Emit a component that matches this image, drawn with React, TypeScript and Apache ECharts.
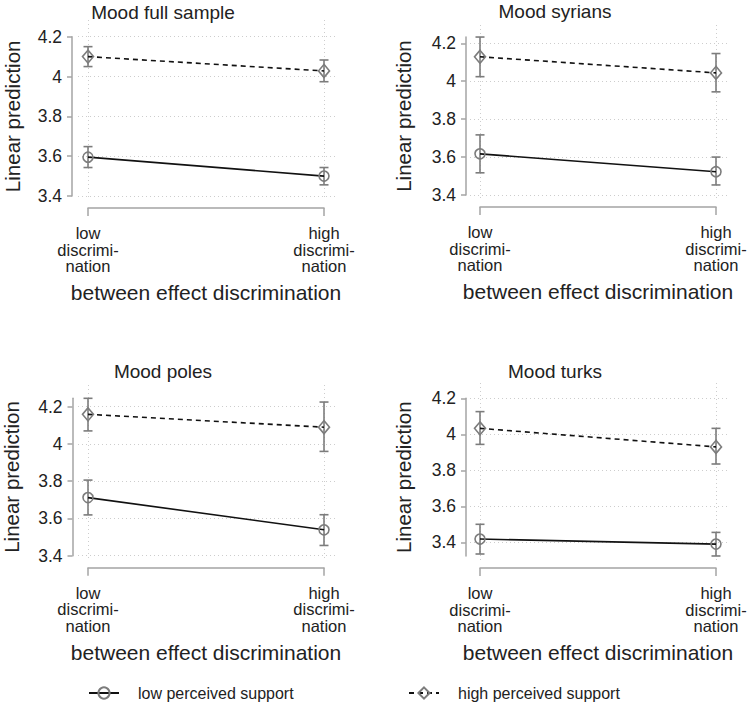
import { useEffect, useRef } from "react";
import * as echarts from "echarts";

// panels: full sample, syrians, poles, turks
const panelTitles = ["Mood full sample", "Mood syrians", "Mood poles", "Mood turks"];
const categories = ["low\ndiscrimi-\nnation", "high\ndiscrimi-\nnation"];
const yTicks = [3.4, 3.6, 3.8, 4.0, 4.2];
const seriesNames = ["low perceived support", "high perceived support"];
const yTitle = "Linear prediction";
const xTitle = "between effect discrimination";

// each row: [low discrimination, high discrimination]
const lowSupportMean = [
  [3.595, 3.5],
  [3.617, 3.523],
  [3.712, 3.539],
  [3.418, 3.39],
];
const lowSupportLower = [
  [3.543, 3.456],
  [3.517, 3.453],
  [3.619, 3.455],
  [3.335, 3.324],
];
const lowSupportUpper = [
  [3.648, 3.543],
  [3.717, 3.6],
  [3.806, 3.62],
  [3.5, 3.455],
];
const highSupportMean = [
  [4.1, 4.028],
  [4.129, 4.044],
  [4.159, 4.09],
  [4.033, 3.93],
];
const highSupportLower = [
  [4.05, 3.974],
  [4.024, 3.944],
  [4.07, 3.96],
  [3.944, 3.835],
];
const highSupportUpper = [
  [4.15, 4.083],
  [4.233, 4.146],
  [4.245, 4.225],
  [4.126, 4.033],
];

// pixel layout of each panel (where the outer ticks sit, plot region, labels)
const panelLayout = [
  { py42: 36.7, py34: 196, xLow: 88, xHigh: 324, axisX: 72, plotL: 78, plotR: 338, plotT: 20, plotB: 200, titleX: 163, titleY: 12, yNameX: 13 },
  { py42: 43.3, py34: 195, xLow: 480, xHigh: 716, axisX: 466, plotL: 470, plotR: 728, plotT: 25, plotB: 200, titleX: 555, titleY: 11, yNameX: 404 },
  { py42: 406.7, py34: 555.7, xLow: 88, xHigh: 324, axisX: 72.5, plotL: 78, plotR: 338, plotT: 385, plotB: 560, titleX: 163, titleY: 371, yNameX: 12 },
  { py42: 398.3, py34: 542.3, xLow: 480, xHigh: 716, axisX: 466, plotL: 470, plotR: 730, plotT: 383, plotB: 560, titleX: 555, titleY: 371, yNameX: 404 },
];

const FONT = "'Liberation Sans', Arial, sans-serif";
const AXIS_GRAY = "#a4a4a4";
const MARK_GRAY = "#7c7c7c";
const GRID_GRAY = "#cdcdcd";
const TEXT = "#222";

function buildOption(): echarts.EChartsOption {
  const grids: any[] = [];
  const xAxes: any[] = [];
  const yAxes: any[] = [];
  const series: any[] = [];
  const graphics: any[] = [];

  const tickTop = yTicks[yTicks.length - 1];
  const tickBot = yTicks[0];

  panelLayout.forEach((lay, i) => {
    const k = (lay.py34 - lay.py42) / (tickTop - tickBot);
    const toPx = (v: number) => lay.py42 + (tickTop - v) * k;
    const toVal = (px: number) => tickTop - (px - lay.py42) / k;
    const ciValues = [
      ...lowSupportLower[i],
      ...lowSupportUpper[i],
      ...highSupportLower[i],
      ...highSupportUpper[i],
    ];
    const axisMin = Math.min(tickBot, ...ciValues);
    const axisMax = Math.max(tickTop, ...ciValues);
    const span = lay.xHigh - lay.xLow;

    // plot region: dotted grid lines only
    const gA = grids.length;
    grids.push({
      left: lay.plotL,
      width: lay.plotR - lay.plotL,
      top: lay.plotT,
      height: lay.plotB - lay.plotT,
    });
    xAxes.push({
      type: "value",
      gridIndex: gA,
      min: (lay.plotL - lay.xLow) / span,
      max: (lay.plotR - lay.xLow) / span,
      axisLine: { show: false },
      axisTick: { show: false, customValues: [0, 1] },
      axisLabel: { show: false, customValues: [0, 1] },
      splitLine: { show: true, lineStyle: { color: GRID_GRAY, type: [1, 3], width: 1 } },
    });
    yAxes.push({
      type: "value",
      gridIndex: gA,
      min: toVal(lay.plotB),
      max: toVal(lay.plotT),
      axisLine: { show: false },
      axisTick: { show: false, customValues: yTicks },
      axisLabel: { show: false, customValues: yTicks },
      splitLine: { show: true, lineStyle: { color: GRID_GRAY, type: [1, 3], width: 1 } },
    });

    // axes + data
    const gB = grids.length;
    grids.push({
      left: lay.xLow,
      width: span,
      top: toPx(axisMax),
      height: toPx(axisMin) - toPx(axisMax),
    });
    const xB = xAxes.length;
    xAxes.push({
      type: "category",
      gridIndex: gB,
      data: categories,
      boundaryGap: false,
      offset: 12,
      axisLine: { onZero: false, lineStyle: { color: AXIS_GRAY, width: 1.5 } },
      axisTick: { inside: false, length: 8, lineStyle: { color: AXIS_GRAY, width: 1.5 } },
      axisLabel: {
        interval: 0,
        margin: 17,
        color: TEXT,
        fontFamily: FONT,
        fontSize: 16.5,
        lineHeight: 16.5,
      },
      splitLine: { show: false },
      name: xTitle,
      nameLocation: "middle",
      nameGap: 74,
      nameMoveOverlap: false,
      nameTextStyle: { color: TEXT, fontFamily: FONT, fontSize: 21 },
    });
    const yB = yAxes.length;
    yAxes.push({
      type: "value",
      gridIndex: gB,
      min: axisMin,
      max: axisMax,
      offset: lay.xLow - lay.axisX,
      axisLine: { show: true, onZero: false, lineStyle: { color: AXIS_GRAY, width: 1.5 } },
      axisTick: {
        show: true,
        length: 5,
        customValues: yTicks,
        lineStyle: { color: AXIS_GRAY, width: 1.5 },
      },
      axisLabel: {
        customValues: yTicks,
        margin: 10,
        color: TEXT,
        fontFamily: FONT,
        fontSize: 17.5,
      },
      splitLine: { show: false },
      name: yTitle,
      nameLocation: "middle",
      nameGap: lay.axisX - lay.yNameX - 10,
      nameMoveOverlap: false,
      nameTextStyle: { color: TEXT, fontFamily: FONT, fontSize: 20.5 },
    });

    const ciData = (lo: number[], hi: number[]) =>
      categories.map((_, j) => [j, lo[j], hi[j]]);

    const errorBars = {
      type: "custom",
      xAxisIndex: xB,
      yAxisIndex: yB,
      z: 1,
      silent: true,
      encode: { x: 0, y: [1, 2] },
      renderItem: (_params: any, api: any) => {
        const x = api.value(0);
        const pLo = api.coord([x, api.value(1)]);
        const pHi = api.coord([x, api.value(2)]);
        const cap = 4.5;
        const style = { stroke: MARK_GRAY, lineWidth: 1.6 };
        return {
          type: "group",
          children: [
            { type: "line", shape: { x1: pLo[0], y1: pLo[1], x2: pHi[0], y2: pHi[1] }, style },
            { type: "line", shape: { x1: pLo[0] - cap, y1: pLo[1], x2: pLo[0] + cap, y2: pLo[1] }, style },
            { type: "line", shape: { x1: pHi[0] - cap, y1: pHi[1], x2: pHi[0] + cap, y2: pHi[1] }, style },
          ],
        };
      },
    };

    series.push(
      { ...errorBars, data: ciData(lowSupportLower[i], lowSupportUpper[i]) },
      { ...errorBars, data: ciData(highSupportLower[i], highSupportUpper[i]) },
      {
        name: seriesNames[0],
        type: "line",
        xAxisIndex: xB,
        yAxisIndex: yB,
        data: lowSupportMean[i],
        clip: false,
        z: 3,
        symbol: "circle",
        symbolSize: 10,
        lineStyle: { color: "#111", width: 1.6, type: "solid" },
        itemStyle: { color: "rgba(255,255,255,0)", borderColor: MARK_GRAY, borderWidth: 1.6 },
      },
      {
        name: seriesNames[1],
        type: "line",
        xAxisIndex: xB,
        yAxisIndex: yB,
        data: highSupportMean[i],
        clip: false,
        z: 3,
        symbol: "diamond",
        symbolSize: [11, 13],
        lineStyle: { color: "#111", width: 1.6, type: [5, 4] },
        itemStyle: { color: "rgba(255,255,255,0)", borderColor: MARK_GRAY, borderWidth: 1.6 },
      },
    );

    graphics.push({
      type: "text",
      x: lay.titleX,
      y: lay.titleY,
      style: {
        text: panelTitles[i],
        fill: TEXT,
        fontFamily: FONT,
        fontSize: 19,
        align: "center",
        verticalAlign: "middle",
      },
    });
  });

  const legendBase = {
    top: 685,
    padding: 0,
    itemWidth: 30,
    itemHeight: 14,
    selectedMode: false,
    textStyle: { color: TEXT, fontFamily: FONT, fontSize: 16, padding: [0, 0, 0, 14] },
  };

  return {
    animation: false,
    backgroundColor: "#fff",
    grid: grids,
    xAxis: xAxes,
    yAxis: yAxes,
    series,
    graphic: graphics,
    legend: [
      { ...legendBase, left: 88, data: [seriesNames[0]] },
      { ...legendBase, left: 408, data: [seriesNames[1]] },
    ],
  } as echarts.EChartsOption;
}

export default function App() {
  const chartRef = useRef<HTMLDivElement>(null);

  useEffect(() => {
    document.body.style.margin = "0";
    if (!chartRef.current) return;
    const chart = echarts.init(chartRef.current, undefined, { renderer: "svg" });
    chart.setOption(buildOption());
    return () => {
      chart.dispose();
    };
  }, []);

  return <div ref={chartRef} style={{ width: "750px", height: "705px" }} />;
}
